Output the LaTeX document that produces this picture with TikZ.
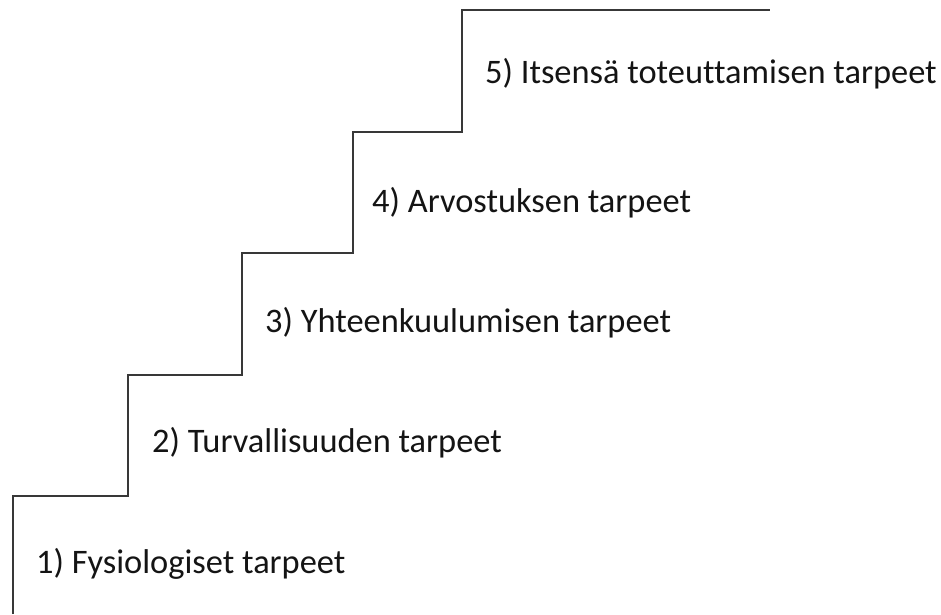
\documentclass[tikz,border=0pt]{standalone}
\usepackage{fontspec}
\setmainfont[Ligatures={NoCommon}]{Carlito}
\begin{document}
\begin{tikzpicture}[x=1pt,y=-1pt,
  stair/.style={draw=black!78, line width=1.6pt, line join=miter},
  level/.style={anchor=base west, inner sep=0pt, font=\fontsize{34.4}{40}\selectfont, text=black!92}]
\useasboundingbox (0,0) rectangle (941,614);
% staircase outline
\draw[stair] (13,614) -- (13,496) -- (128,496) -- (128,375) -- (242,375)
  -- (242,253) -- (353,253) -- (353,132) -- (462,132) -- (462,10) -- (770,10);
% needs on each step
\node[level] (n1) at (36,573) {1) Fysiologiset tarpeet};
\node[level] (n2) at (152,452) {2) Turvallisuuden tarpeet};
\node[level] (n3) at (265,332) {3) Yhteenkuulumisen tarpeet};
\node[level] (n4) at (372,212) {4) Arvostuksen tarpeet};
\node[level] (n5) at (485,83) {5) Itsensä toteuttamisen tarpeet};
\end{tikzpicture}
\end{document}
